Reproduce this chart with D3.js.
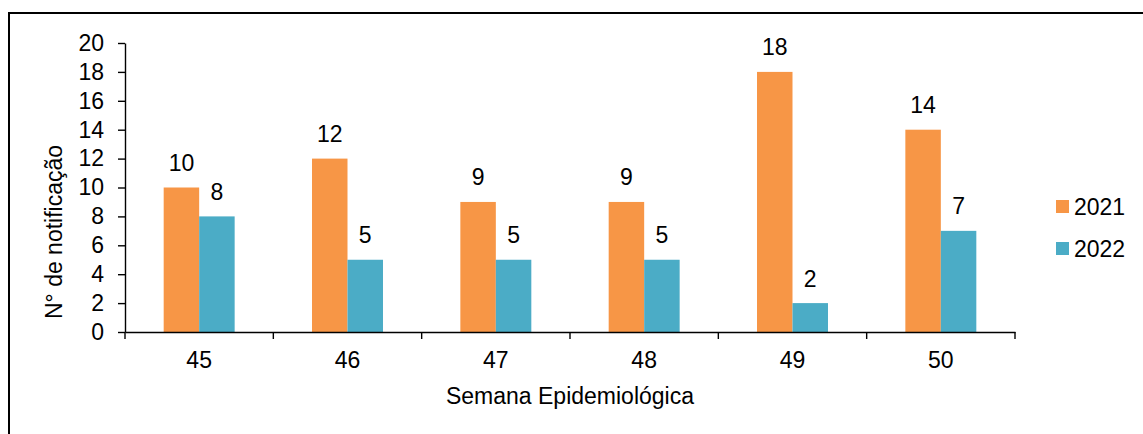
<!DOCTYPE html>
<html>
<head>
<meta charset="utf-8">
<script src="https://cdn.jsdelivr.net/npm/d3@7"></script>
<style>
    body { margin: 0; background: #fff; }
    svg { display: block; font-family: Arial, "Liberation Sans", sans-serif; }
    .axis text { font-size: 23px; fill: #000; }
    .axis path, .axis line { stroke: #000; stroke-width: 1.4px; }
</style>
</head>
<body>
<svg width="1143" height="434"></svg>
<script>
    const weeks = ["45", "46", "47", "48", "49", "50"];
    const seriesNames = ["2021", "2022"];
    const values2021 = [10, 12, 9, 9, 18, 14];
    const values2022 = [8, 5, 5, 5, 2, 7];
    const yTicks = [0, 2, 4, 6, 8, 10, 12, 14, 16, 18, 20];
    const colors = ["#F79646", "#4BACC6"];

    const svg = d3.select("svg");
    // frame round the chart (only top and left show in the picture)
    svg.append("rect")
        .attr("x", 9).attr("y", 13)
        .attr("width", 1160).attr("height", 440)
        .attr("fill", "none")
        .attr("stroke", "#000")
        .attr("stroke-width", 2);

    const plot = { left: 125, right: 1015, top: 43, bottom: 332 };

    const x0 = d3.scaleBand().domain(weeks).range([plot.left, plot.right]).padding(0);
    const x1 = d3.scaleBand().domain(seriesNames).range([0, x0.bandwidth()])
        .paddingInner(0).paddingOuter(1.09);
    const y = d3.scaleLinear().domain([0, 20]).range([plot.bottom, plot.top]);
    const color = d3.scaleOrdinal().domain(seriesNames).range(colors);

    const rows = weeks.map((w, i) => ({ week: w, vals: [
        { key: "2021", value: values2021[i] },
        { key: "2022", value: values2022[i] }
    ] }));

    // bars
    const groups = svg.append("g").selectAll("g")
        .data(rows)
        .enter().append("g")
        .attr("transform", d => `translate(${x0(d.week)},0)`);
    groups.selectAll("rect")
        .data(d => d.vals)
        .enter().append("rect")
        .attr("x", d => x1(d.key))
        .attr("y", d => y(d.value))
        .attr("width", x1.bandwidth())
        .attr("height", d => y(0) - y(d.value))
        .attr("fill", d => color(d.key));
    // value labels
    groups.selectAll("text")
        .data(d => d.vals)
        .enter().append("text")
        .attr("x", d => x1(d.key) + x1.bandwidth() / 2)
        .attr("y", d => y(d.value) - 16.5)
        .attr("text-anchor", "middle")
        .style("font-size", "23px")
        .text(d => d.value);

    // y axis
    svg.append("g")
        .attr("class", "axis")
        .attr("transform", `translate(${plot.left},0)`)
        .call(d3.axisLeft(y).tickValues(yTicks).tickSize(7).tickSizeOuter(0).tickPadding(14));

    // x axis, labels at band centres
    svg.append("g")
        .attr("class", "axis")
        .attr("transform", `translate(0,${plot.bottom})`)
        .call(d3.axisBottom(x0).tickSize(0).tickSizeOuter(0).tickPadding(20));

    // tick marks between the categories
    const bounds = weeks.map(w => x0(w)).concat([x0.range()[1]]);
    svg.append("g").selectAll("line")
        .data(bounds)
        .enter().append("line")
        .attr("x1", d => d).attr("x2", d => d)
        .attr("y1", plot.bottom).attr("y2", plot.bottom + 7)
        .attr("stroke", "#000").attr("stroke-width", 1.4);

    // axis titles
    svg.append("text")
        .attr("x", (plot.left + plot.right) / 2)
        .attr("y", 404)
        .attr("text-anchor", "middle")
        .style("font-size", "23px")
        .text("Semana Epidemiológica");
    svg.append("text")
        .attr("transform", "translate(62,232) rotate(-90)")
        .attr("text-anchor", "middle")
        .style("font-size", "23px")
        .text("N° de notificação");

    // legend
    const legend = svg.append("g").selectAll("g")
        .data(seriesNames)
        .enter().append("g")
        .attr("transform", (d, i) => `translate(1056,${200 + i * 42})`);
    legend.append("rect")
        .attr("width", 13).attr("height", 13)
        .attr("fill", d => color(d));
    legend.append("text")
        .attr("x", 18).attr("y", 15)
        .style("font-size", "23px")
        .text(d => d);
</script>
</body>
</html>
